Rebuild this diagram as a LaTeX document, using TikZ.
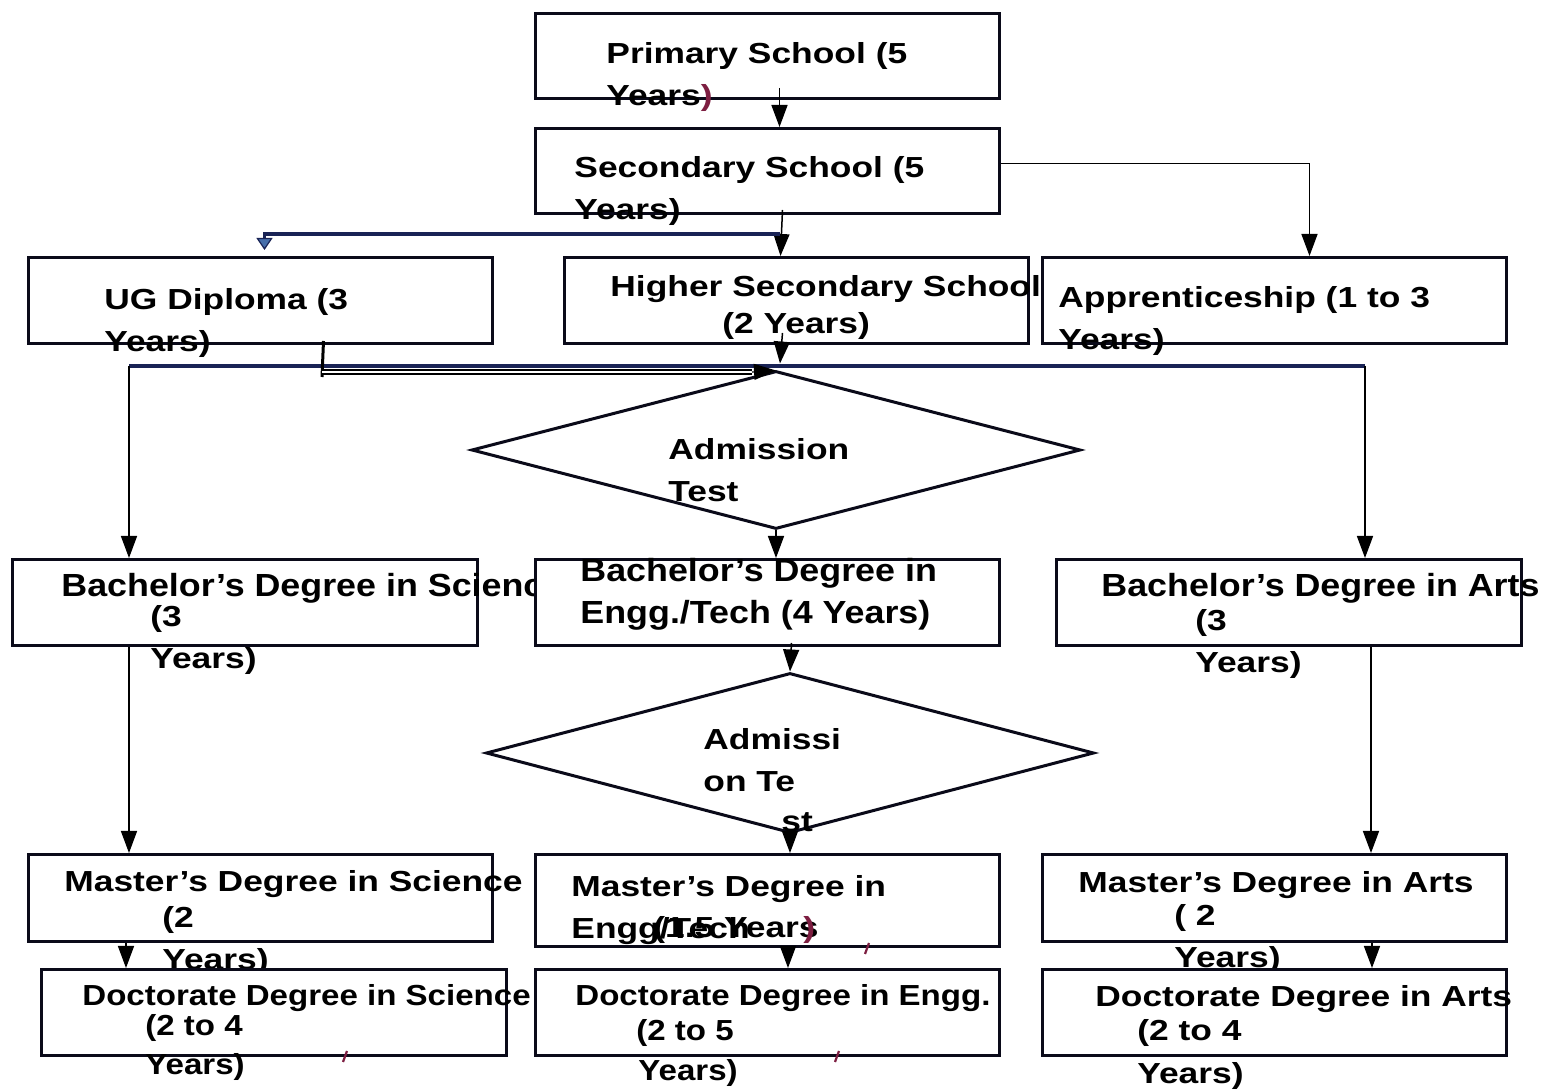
\documentclass[tikz,border=0pt]{standalone}
\usepackage{fontspec}
\setmainfont{Liberation Sans}
\usepackage{graphicx}
\usetikzlibrary{arrows.meta,shapes.geometric,calc}
\definecolor{maroonc}{RGB}{125,30,65}
\definecolor{navyc}{RGB}{25,35,85}
\definecolor{boxc}{RGB}{10,10,25}
\definecolor{tipblue}{RGB}{70,110,170}
\newcommand\sx[1]{\scalebox{1.22}[1]{#1}}
\newcommand\sd[1]{\scalebox{1.14}[1]{#1}}
\newcommand\sbch[1]{\scalebox{1.12}[1]{#1}}
\begin{document}
\begin{tikzpicture}[x=0.5pt,y=-0.5pt,
  box/.style={draw=boxc, line width=1.5pt, fill=white, inner sep=0pt, anchor=north west},
  dia/.style={draw=boxc, line width=1.5pt, fill=white, diamond, inner sep=0pt},
  txt/.style={anchor=base west, inner sep=0pt, font=\fontsize{14.5}{17}\selectfont\bfseries},
  txtb/.style={anchor=base west, inner sep=0pt, font=\fontsize{16}{19}\selectfont\bfseries},
  conn/.style={draw=black, line width=0.75pt, -{Triangle[length=11pt,width=8pt]}},
  navyl/.style={draw=navyc, line width=1.8pt},
  stray/.style={draw=maroonc, line width=1.1pt}]
\fill[white] (0,0) rectangle (1544,1090);
\useasboundingbox (0,0) rectangle (1544,1090);

% top row
\node[box, minimum width=232pt, minimum height=42.5pt] (prim) at (534,12) {};
\node[txt] (primA) at (606,64) {\sx{Primary School (5}};
\node[txt] (primB) at (606,106) {\sx{Years\textcolor{maroonc}{)}}};

\node[box, minimum width=232pt, minimum height=42.5pt] (sec) at (534,127) {};
\node[txt] (secA) at (574,178) {\sx{Secondary School (5}};
\node[txt] (secB) at (574,220) {\sx{Years)}};

\node[box, minimum width=232pt, minimum height=43pt] (hs) at (563,256) {};
\node[txt] (hsA) at (610,297) {\sx{Higher Secondary School}};
\node[txt] (hsB) at (722,334) {\sx{(2 Years)}};

\node[box, minimum width=232pt, minimum height=43pt] (app) at (1041,256) {};
\node[txt] (appA) at (1058,308) {\sx{Apprenticeship (1 to 3}};
\node[txt] (appB) at (1058,350) {\sx{Years)}};

\node[box, minimum width=232pt, minimum height=43pt] (ug) at (27,256) {};
\node[txt] (ugA) at (104,310) {\sx{UG Diploma (3}};
\node[txt] (ugB) at (104,352) {\sx{Years)}};

% diamonds
\node[dia, minimum width=304.5pt, minimum height=79pt] (adm1) at (776,450) {};
\node[txt] (admA) at (668,460) {\sx{Admission}};
\node[txt] (admB) at (668,502) {\sx{Test}};

\node[dia, minimum width=304pt, minimum height=80pt] (adm2) at (790,753) {};
\node[txt] (admC) at (703,750) {\sx{Admissi}};
\node[txt] (admD) at (703,792) {\sx{on Te}};
\node[txt] (admE) at (781,832) {\sx{st}};

% bachelor row
\node[box, minimum width=232.5pt, minimum height=43pt] (bsci) at (11,558) {};
\node[txtb] (bsciA) at (61,597) {\sbch{Bachelor’s Degree in Science}};
\node[txt] (bsciB) at (150,627) {\sx{(3}};
\node[txt] (bsciC) at (150,669) {\sx{Years)}};

\node[box, minimum width=232pt, minimum height=43pt] (beng) at (534,558) {};
\node[txtb] (bengA) at (580,582) {\sbch{Bachelor’s Degree in}};
\node[txtb] (bengB) at (580,624) {\sbch{Engg./Tech (4 Years)}};

\node[box, minimum width=232.5pt, minimum height=43pt] (barts) at (1055,558) {};
\node[txtb] (bartsA) at (1101,597) {\sbch{Bachelor’s Degree in Arts}};
\node[txt] (bartsB) at (1195,631) {\sx{(3}};
\node[txt] (bartsC) at (1195,673) {\sx{Years)}};

% master row
\node[box, minimum width=232pt, minimum height=43.5pt] (msci) at (27,853) {};
\node[txt] (msciA) at (64,892) {\sx{Master’s Degree in Science}};
\node[txt] (msciB) at (162,928) {\sx{(2}};
\node[txt] (msciC) at (162,970) {\sx{Years)}};

\node[box, minimum width=232pt, minimum height=46pt] (meng) at (534,853) {};
\node[txt] (mengA) at (571,897) {\sx{Master’s Degree in}};
\node[txt] (mengB) at (571,939) {\sx{Engg/Tech}};
\node[txt] (mengC) at (653,938) {\sx{(1.5 Years}};
\node[txt] (mengD) at (803,938) {\sx{\textcolor{maroonc}{)}}};

\node[box, minimum width=232pt, minimum height=43.5pt] (marts) at (1041,853) {};
\node[txt] (martsA) at (1078,893) {\sx{Master’s Degree in Arts}};
\node[txt] (martsB) at (1174,926) {\sx{( 2}};
\node[txt] (martsC) at (1174,968) {\sx{Years)}};

% doctorate row
\node[box, minimum width=232.5pt, minimum height=43pt] (dsci) at (40,968) {};
\node[txt] (dsciA) at (82,1006) {\sd{Doctorate Degree in Science}};
\node[txt] (dsciB) at (145,1036) {\sd{(2 to 4}};
\node[txt] (dsciC) at (145,1074) {\sd{Years)}};

\node[box, minimum width=232pt, minimum height=43pt] (deng) at (534,968) {};
\node[txt] (dengA) at (575,1006) {\sd{Doctorate Degree in Engg.}};
\node[txt] (dengB) at (636,1041) {\sd{(2 to 5}};
\node[txt] (dengC) at (638,1080) {\sd{Years)}};

\node[box, minimum width=232pt, minimum height=43pt] (darts) at (1041,968) {};
\node[txt] (dartsA) at (1095,1007) {\sx{Doctorate Degree in Arts}};
\node[txt] (dartsB) at (1137,1041) {\sx{(2 to 4}};
\node[txt] (dartsC) at (1137,1084) {\sx{Years)}};

% stray marks
\draw[stray] (869,943) -- (865,954);
\draw[stray] (839,1051) -- (835,1062);
\draw[stray] (347,1051) -- (343,1062);

% connectors
\draw[conn] ([xshift=6pt,yshift=6pt]prim.south) -- ([xshift=6pt]sec.north);
\draw[conn] ([xshift=7.5pt,yshift=2.5pt]sec.south) -- ([xshift=-8pt]hs.north);
\coordinate (j1) at (780,234);
\draw[navyl] (j1) -| ([xshift=2pt,yshift=8pt]ug.north);
\draw[draw=navyc, line width=0.6pt, -{Triangle[length=6pt,width=8pt,fill=tipblue]}] ([xshift=2pt,yshift=9pt]ug.north) -- ([xshift=2pt,yshift=3pt]ug.north);
\draw[conn] ([yshift=3.75pt]sec.east) -| ([xshift=17.5pt]app.north);
\draw[conn] ([xshift=-7pt,yshift=6pt]hs.south) -- ([xshift=2pt,yshift=3pt]adm1.north);
\coordinate (jl) at (129,366);
\coordinate (jr) at (1365,366);
\draw[navyl] (jl) -- (jr);
\draw[conn] (jl) -- (jl |- bsci.north);
\draw[conn] (jr) -- (jr |- barts.north);
\coordinate (ug1) at (322,377);
\draw[line width=1.5pt] ([xshift=31.5pt,yshift=2pt]ug.south) -- (ug1);
\coordinate (ug2) at (322,372);
\coordinate (ug3) at (752,372);
\draw[line width=0.6pt, double, double distance=1.4pt] (ug2) -- (ug3);
\draw[line width=0.6pt, -{Triangle[length=11pt,width=8pt]}] (ug3) -- ([yshift=-0.5pt]adm1.north);
\draw[conn] (adm1.south) -- (adm1.south |- beng.north);
\draw[conn] ([xshift=12pt,yshift=2pt]beng.south) -- (adm2.north);
\draw[conn] (adm2.south) -- (adm2.south |- meng.north);
\draw[conn] (jl |- bsci.south) -- (jl |- msci.north);
\coordinate (ar) at (1371,0);
\draw[conn] (ar |- barts.south) -- (ar |- marts.north);
\coordinate (cl) at (126,0);
\draw[conn] (cl |- msci.south) -- (cl |- dsci.north);
\coordinate (cm) at (788,0);
\draw[conn] (cm |- meng.south) -- (cm |- deng.north);
\coordinate (cr) at (1372,0);
\draw[conn] (cr |- marts.south) -- (cr |- darts.north);
\end{tikzpicture}
\end{document}
